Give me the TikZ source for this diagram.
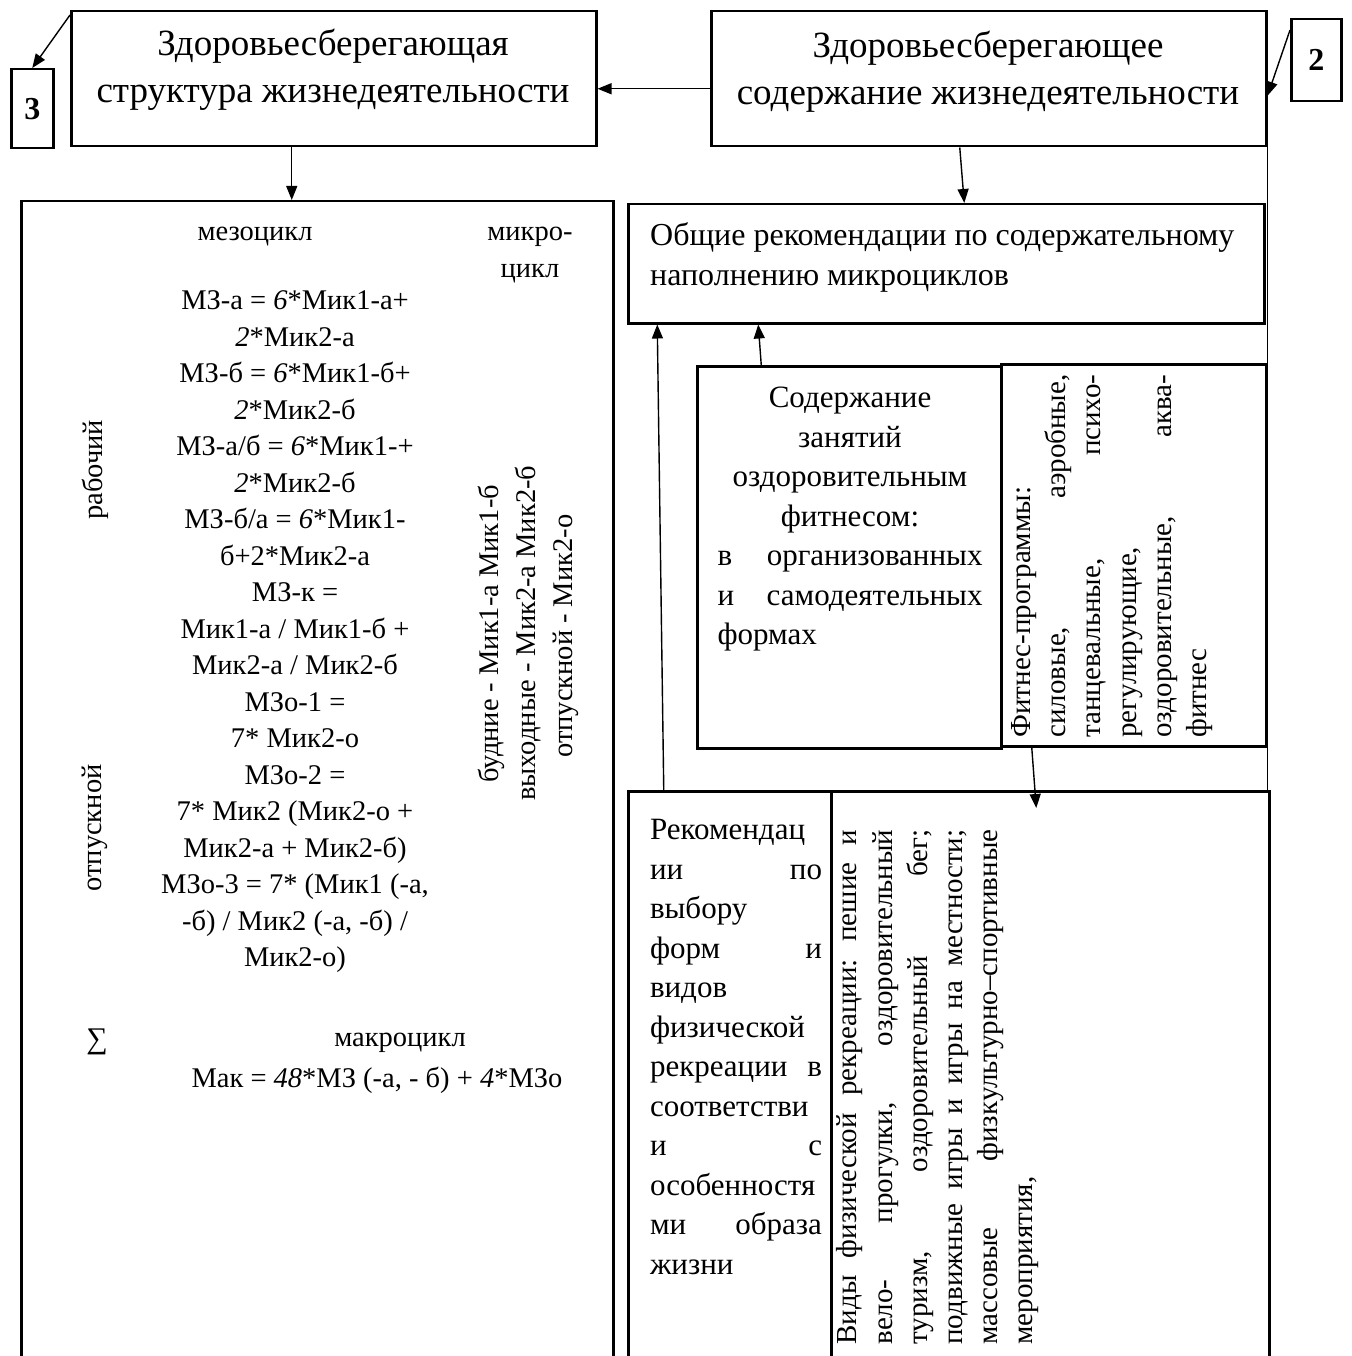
\documentclass[tikz,border=0pt]{standalone}
\usepackage{fontspec}
\setmainfont{Liberation Serif}
\usetikzlibrary{arrows.meta}
\newcommand\normsp{\spaceskip=0pt\xspaceskip=0pt\relax}
\begin{document}
\begin{tikzpicture}[x=1pt,y=-1pt,
  box/.style={draw, line width=2.5pt, inner sep=0pt, anchor=north west},
  arr/.style={line width=1.4pt, -{Triangle[length=14pt,width=11pt]}},
  conn/.style={line width=1.6pt},
  big/.style={inner sep=0pt, align=center, font=\fontsize{37}{47}\selectfont},
  formula/.style={inner sep=0pt, align=center, font=\fontsize{28.5}{36.5}\selectfont},
  body/.style={inner sep=0pt, font=\fontsize{31}{39.5}\selectfont},
  vert/.style={inner sep=0pt, rotate=90, font=\fontsize{29}{35.2}\selectfont},
]
\clip (0,0) rectangle (1351,1356);
\fill[white] (0,0) rectangle (1351,1356);

% boxes
\node[box, minimum width=525pt, minimum height=135pt] (tl) at (70,10) {};
\node[box, minimum width=555pt, minimum height=135pt] (tr) at (710,10) {};
\node[box, minimum width=42pt, minimum height=79pt] (b3) at (10,68) {};
\node[box, minimum width=50pt, minimum height=82pt] (b2) at (1290,18) {};
\node[box, minimum width=592pt, minimum height=1200pt] (L) at (20,200) {};
\node[box, minimum width=636pt, minimum height=119pt] (obs) at (627,203) {};
\node[box, minimum width=304pt, minimum height=382pt] (sod) at (696,365) {};
\node[box, minimum width=265pt, minimum height=382pt] (fit) at (1000,363) {};
\node[box, minimum width=203pt, minimum height=600pt] (rek) at (627,790) {};
\node[box, minimum width=438pt, minimum height=600pt] (vid) at (830,790) {};

% header texts
\node[big] (tlt) at (333,70) {\normsp Здоровьесберегающая\\структура жизнедеятельности};
\node[big] (trt) at (988,72) {\normsp Здоровьесберегающее\\содержание жизнедеятельности};
\node[inner sep=0pt, font=\bfseries\fontsize{32}{36}\selectfont] (n3) at (b3.center) {3};
\node[inner sep=0pt, font=\bfseries\fontsize{32}{36}\selectfont] (n2) at (b2.center) {2};

% left big box texts
\node[formula] (mezo) at (255,237) {мезоцикл};
\node[formula] (mikro) at (530,255) {\normsp микро-\\цикл};
\node[formula] (form) at (295,632) {\normsp МЗ-а = \textit{6}*Мик1-а+\\
\textit{2}*Мик2-а\\
МЗ-б = \textit{6}*Мик1-б+\\
\textit{2}*Мик2-б\\
МЗ-а/б = \textit{6}*Мик1-+\\
\textit{2}*Мик2-б\\
МЗ-б/а = \textit{6}*Мик1-\\
б+2*Мик2-а\\
МЗ-к =\\
Мик1-а / Мик1-б +\\
Мик2-а / Мик2-б\\
МЗо-1 =\\
7* Мик2-о\\
МЗо-2 =\\
7* Мик2 (Мик2-о +\\
Мик2-а + Мик2-б)\\
МЗо-3 = 7* (Мик1 (-а,\\
-б) / Мик2 (-а, -б) /\\
Мик2-о)};
\node[formula, rotate=90] (rab) at (95,470) {рабочий};
\node[formula, rotate=90] (otp) at (95,828) {отпускной};
\node[formula, rotate=90, anchor=west] (bud) at (491,783) {будние - Мик1-а Мик1-б};
\node[formula, rotate=90, anchor=west] (vyh) at (528,801) {выходные - Мик2-а Мик2-б};
\node[formula, rotate=90, anchor=west] (otm) at (566,758) {отпускной - Мик2-о};
\node[inner sep=0pt, font=\fontsize{30}{32}\selectfont] (sig) at (97,1042) {∑};
\node[formula] (makro) at (400,1043) {макроцикл};
\node[formula] (mak) at (377,1080) {Мак = \textit{48}*МЗ (-а, - б) + \textit{4}*МЗо};

% right side texts
\node[body, align=left, anchor=west, font=\fontsize{32}{40}\selectfont] (obst) at (650,257) {\normsp Общие рекомендации по содержательному\\наполнению микроциклов};
\node[body, align=center, text width=265pt, anchor=north] (sodt) at (850,387) {\normsp Содержание\\занятий\\оздоровительным\\фитнесом:\\
\makebox[265pt][l]{в\hfill организованных}\\
\makebox[265pt][l]{и\hfill самодеятельных}\\
\makebox[265pt][l]{формах}};
\node[vert, align=center, text width=363pt] (fitt) at (1112,556) {\normsp\makebox[363pt][l]{Фитнес-программы:}\\
\makebox[363pt][l]{силовые,\hfill аэробные,}\\
\makebox[363pt][l]{танцевальные,\hfill психо-}\\
\makebox[363pt][l]{регулирующие,}\\
\makebox[363pt][l]{оздоровительные,\hfill аква-}\\
\makebox[363pt][l]{фитнес}};
\node[body, align=center, text width=172pt, anchor=north] (rekt) at (736,819) {\normsp\makebox[172pt][l]{Рекомендац}\\
\makebox[172pt][l]{ии\hfill по}\\
\makebox[172pt][l]{выбору}\\
\makebox[172pt][l]{форм\hfill и}\\
\makebox[172pt][l]{видов}\\
\makebox[172pt][l]{физической}\\
\makebox[172pt][l]{рекреации\hfill в}\\
\makebox[172pt][l]{соответстви}\\
\makebox[172pt][l]{и\hfill с}\\
\makebox[172pt][l]{особенностя}\\
\makebox[172pt][l]{ми\hfill образа}\\
\makebox[172pt][l]{жизни}};
\node[vert, align=center, text width=515pt] (vidt) at (938,1087) {\normsp\makebox[515pt][l]{Виды\hfill физической\hfill рекреации:\hfill пешие\hfill и}\\
\makebox[515pt][l]{вело-\hfill прогулки,\hfill оздоровительный}\\
\makebox[515pt][l]{туризм,\hfill оздоровительный\hfill бег;}\\
\makebox[515pt][l]{подвижные\hfill игры\hfill и\hfill игры\hfill на\hfill местности;}\\
\makebox[515pt][l]{массовые\hfill физкультурно–спортивные}\\
\makebox[515pt][l]{мероприятия,}};

% connectors
\draw[arr] ([yshift=-10pt]tr.west) -- ([yshift=-10pt]tl.east);
\draw[arr] ([yshift=-5pt]tl.north west) -- (b3.north);
\draw[arr] ([yshift=-12pt]b2.north west) -- ([yshift=-17pt]tr.east);
\draw[arr] ([xshift=-42pt]tl.south) -- ([xshift=-42pt]tl.south |- L.north);
\draw[arr] ([xshift=-29pt]tr.south) -- ([xshift=18pt]obs.north);
\draw[conn] (tr.south east) -- (tr.south east |- vid.north);
\draw[arr] ([xshift=-88pt]sod.north) -- ([xshift=-188pt]obs.south);
\draw[arr] ([xshift=-66pt]rek.north) -- ([xshift=-289pt]obs.south);
\draw[arr] ([xshift=-102pt]fit.south) -- ([xshift=-14pt,yshift=-18pt]vid.north);
\end{tikzpicture}
\end{document}
